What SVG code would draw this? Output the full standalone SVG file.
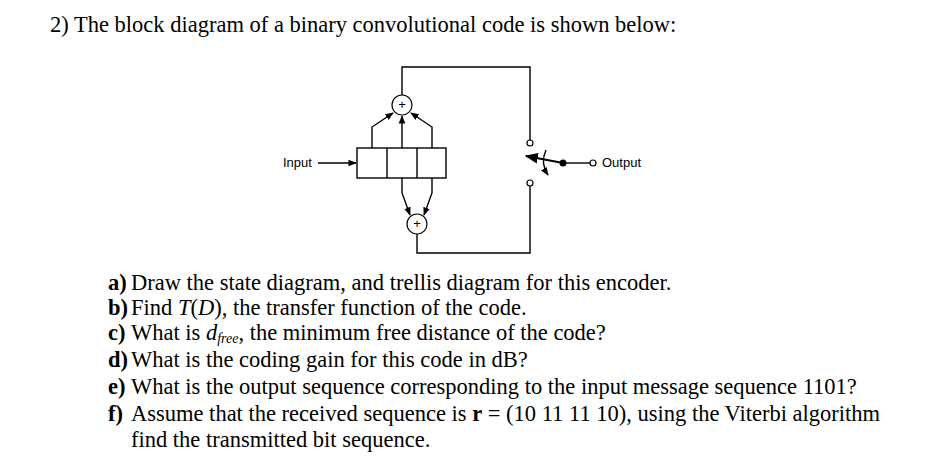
<svg xmlns="http://www.w3.org/2000/svg" width="952" height="473" viewBox="0 0 952 473">
<style>
.t{font-family:"Liberation Serif",serif;font-size:22.5px;fill:#000}
.s{font-family:"Liberation Sans",sans-serif;font-size:13px;fill:#000}
.l{fill:none;stroke:#000;stroke-width:1.4}
.c{fill:#fff;stroke:#000;stroke-width:1.2}
.b{font-weight:bold}
</style>
<defs><marker id="a" viewBox="0 0 10 10" refX="9" refY="5" markerWidth="6" markerHeight="6" orient="auto"><path d="M0,1 L10,5 L0,9z" fill="#000"/></marker></defs>
<rect width="952" height="473" fill="#fff"/>
<text class="t" x="50" y="32">2) The block diagram of a binary convolutional code is shown below:</text>
<g id="register"><rect class="l" x="357" y="148" width="89" height="30"/><line class="l" x1="387" y1="148" x2="387" y2="178"/><line class="l" x1="417" y1="148" x2="417" y2="178"/></g>
<g id="adder1"><circle class="c" cx="402" cy="105" r="10"/><text class="s" x="402" y="109" font-size="10" text-anchor="middle">+</text></g>
<g id="adder2"><circle class="c" cx="417" cy="224" r="10"/><text class="s" x="417" y="228" font-size="10" text-anchor="middle">+</text></g>
<g id="input"><text class="s" x="283" y="167">Input</text></g>
<g id="switch"><circle class="c" cx="530" cy="143" r="3"/><circle class="c" cx="530" cy="183" r="3"/><circle cx="563" cy="163" r="3.5" fill="#000"/><circle class="c" cx="593" cy="163" r="3"/><text class="s" x="602" y="167">Output</text></g>
<g id="connectors">
<line class="l" x1="318" y1="163" x2="356" y2="163" marker-end="url(#a)"/>
<path class="l" d="M372,148 V127 L393,113" marker-end="url(#a)"/>
<line class="l" x1="402" y1="148" x2="402" y2="116" marker-end="url(#a)"/>
<path class="l" d="M432,148 V127 L411,113" marker-end="url(#a)"/>
<path class="l" d="M402,178 V193 L410,215" marker-end="url(#a)"/>
<path class="l" d="M432,178 V193 L424,215" marker-end="url(#a)"/>
<path class="l" d="M402,95 V67 H530 V140"/>
<path class="l" d="M530,186 V253 H417 V234"/>
<line class="l" x1="563" y1="163" x2="590" y2="163"/>
<line x1="563" y1="163" x2="526" y2="156" stroke="#000" stroke-width="2.2" marker-end="url(#a)"/>
<path class="l" d="M546,150 Q540,163 548,175" marker-end="url(#a)"/>
</g>
<g class="t">
<text class="b" x="108" y="290">a)</text><text x="131" y="290">Draw the state diagram, and trellis diagram for this encoder.</text>
<text class="b" x="108" y="315">b)</text><text x="131" y="315">Find <tspan font-style="italic">T</tspan>(<tspan font-style="italic">D</tspan>), the transfer function of the code.</text>
<text class="b" x="108" y="340">c)</text><text x="131" y="340">What is <tspan font-style="italic">d</tspan><tspan font-style="italic" font-size="14" dy="3">free</tspan><tspan dy="-3">, the minimum free distance of the code?</tspan></text>
<text class="b" x="108" y="367">d)</text><text x="131" y="367">What is the coding gain for this code in dB?</text>
<text class="b" x="108" y="394">e)</text><text x="131" y="394">What is the output sequence corresponding to the input message sequence 1101?</text>
<text class="b" x="108" y="421">f)</text><text x="131" y="421">Assume that the received sequence is <tspan class="b">r</tspan> = (10 11 11 10), using the Viterbi algorithm</text>
<text x="131" y="447">find the transmitted bit sequence.</text>
</g>
</svg>
